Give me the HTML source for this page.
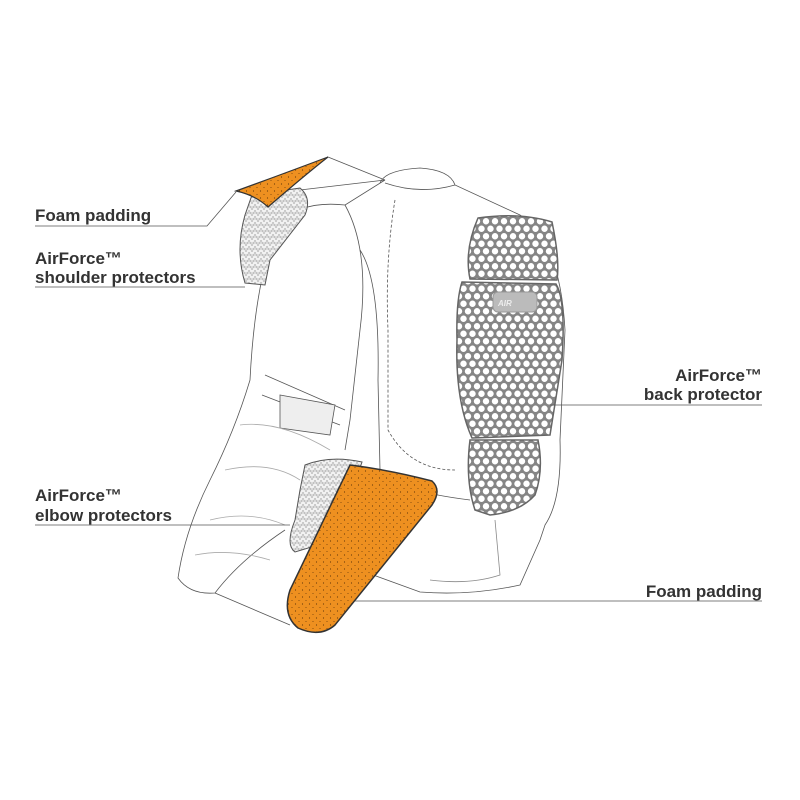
<!DOCTYPE html>
<html><head><meta charset="utf-8"><style>
html,body{margin:0;padding:0;background:#fff;}
svg{display:block}
text{font-family:"Liberation Sans",sans-serif;font-weight:bold;font-size:17px;fill:#333}
</style></head><body>
<svg width="800" height="800" viewBox="0 0 800 800" xmlns="http://www.w3.org/2000/svg">
<defs>
<pattern id="hex" width="9" height="15" patternUnits="userSpaceOnUse">
<rect width="9" height="15" fill="#858585"/>
<circle cx="4.5" cy="3.75" r="3.2" fill="#fff"/>
<circle cx="0" cy="11.25" r="3.2" fill="#fff"/>
<circle cx="9" cy="11.25" r="3.2" fill="#fff"/>
</pattern>
<pattern id="mesh" width="6" height="6" patternUnits="userSpaceOnUse">
<rect width="6" height="6" fill="#f2f2f2"/>
<path d="M0,6 L3,0 L6,6 M0,3 H6" stroke="#999" stroke-width="0.5" fill="none"/>
</pattern>
<pattern id="foam" width="7" height="7" patternUnits="userSpaceOnUse">
<rect width="7" height="7" fill="#ee9020"/>
<circle cx="1.5" cy="2" r="0.6" fill="#6a3a0a"/>
<circle cx="5" cy="5.5" r="0.5" fill="#6a3a0a"/>
</pattern>
</defs>
<g fill="none" stroke="#555" stroke-width="0.8">
<path d="M380,183 Q385,170 420,168 Q450,170 455,185 L520,215 Q560,240 565,330 L560,440 Q562,500 545,525 L540,540 L520,585 Q470,596 420,592 L365,572"/>
<path d="M385,183 Q420,195 455,185"/>
<path d="M300,190 L385,180 L345,205 Q370,250 360,330 L350,420 L345,450"/>
<path d="M345,205 Q300,200 278,225 Q255,280 250,380 Q235,430 210,480 Q185,530 178,578 Q190,595 215,593 Q240,560 285,530"/>
<path d="M360,250 Q380,280 378,380 L380,470 Q390,490 470,500"/>
<path d="M395,200 Q385,260 388,330 L388,430 Q410,470 455,470" stroke-dasharray="3,2"/>
<path d="M265,375 L345,410 M262,395 L340,425"/>
<path d="M280,395 L335,405 L330,435 L280,428 Z" fill="#eee"/>
<path d="M240,425 Q280,420 330,450 M225,470 Q270,460 300,480 M210,520 Q250,510 285,525 M195,555 Q230,548 270,560" stroke="#aaa"/>
<path d="M495,520 L500,575 Q470,585 430,580" stroke="#888"/>
</g>
<path d="M252,195 L300,188 Q312,198 305,215 L270,260 L265,285 L245,283 Q235,250 245,215 Z" fill="url(#mesh)" stroke="#555" stroke-width="1"/>
<path d="M305,465 Q330,455 362,462 L335,540 L295,552 Q285,545 295,520 L300,490 Z" fill="url(#mesh)" stroke="#555" stroke-width="1"/>
<path d="M478,218 Q520,212 552,222 Q560,260 557,280 L470,279 Q464,250 478,218 Z" fill="url(#hex)" stroke="#666" stroke-width="1.5"/>
<path d="M462,282 L556,284 Q566,300 562,360 L550,435 L472,438 Q455,400 457,340 Q456,300 462,282 Z" fill="url(#hex)" stroke="#666" stroke-width="1.5"/>
<rect x="493" y="292" width="44" height="20" rx="5" fill="#bbb" stroke="#999"/>
<text x="498" y="306" style="font-size:8px;fill:#eee;font-style:italic">AIR</text>
<path d="M470,440 L538,440 Q544,470 535,495 Q520,512 490,515 L475,510 Q465,480 470,440 Z" fill="url(#hex)" stroke="#666" stroke-width="1.5"/>
<path d="M236,191 Q280,175 328,157 Q305,175 268,207 Q255,195 236,191 Z" fill="url(#foam)" stroke="#333" stroke-width="1.2"/>
<path d="M350,465 Q390,470 432,481 Q442,490 432,505 L335,625 Q320,638 298,628 Q282,615 290,590 Z" fill="url(#foam)" stroke="#333" stroke-width="1.5"/>
<g stroke="#555" stroke-width="0.8" fill="none">
<path d="M35,226 H207 L236,192"/>
<path d="M328,157 L385,180"/>
<path d="M35,287 H245"/>
<path d="M550,405 H762"/>
<path d="M35,525 H290"/>
<path d="M355,601 H762"/>
<path d="M215,593 L290,625"/>
</g>
<text x="35" y="221">Foam padding</text>
<text x="35" y="264">AirForce™</text>
<text x="35" y="283">shoulder protectors</text>
<text x="762" y="381" text-anchor="end">AirForce™</text>
<text x="762" y="400" text-anchor="end">back protector</text>
<text x="35" y="501">AirForce™</text>
<text x="35" y="521">elbow protectors</text>
<text x="762" y="597" text-anchor="end">Foam padding</text>
</svg>
</body></html>
